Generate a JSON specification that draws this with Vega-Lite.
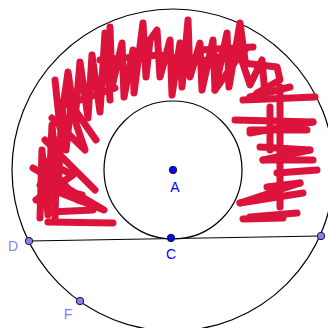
{
  "$schema": "https://vega.github.io/schema/vega-lite/v6.json",
  "width": 328,
  "height": 328,
  "autosize": {"type": "fit", "contains": "padding"},
  "padding": 0,
  "background": "white",
  "config": {"view": {"stroke": null}},
  "datasets": {
    "circles": [
      {"name": "outer", "cx": 0, "cy": 0, "r": 161},
      {"name": "inner", "cx": 0, "cy": 0, "r": 69}
    ],
    "chord": [
      {"from": "D", "to": "E", "x": -144, "y": -71, "x2": 148, "y2": -66}
    ],
    "scribble": [
      {"s": 1, "o": 1, "x": -133, "y": -48}, {"s": 1, "o": 2, "x": -131, "y": 20}, {"s": 1, "o": 3, "x": -125, "y": -45}, {"s": 1, "o": 4, "x": -121, "y": 45}, {"s": 1, "o": 5, "x": -115, "y": -20}, {"s": 1, "o": 6, "x": -111, "y": 62}, {"s": 1, "o": 7, "x": -107, "y": 20}, {"s": 1, "o": 8, "x": -101, "y": 75},
      {"s": 2, "o": 1, "x": -140, "y": 2}, {"s": 2, "o": 2, "x": -69, "y": -40}, {"s": 2, "o": 3, "x": -133, "y": -15}, {"s": 2, "o": 4, "x": -91, "y": -25},
      {"s": 3, "o": 1, "x": -128, "y": 30}, {"s": 3, "o": 2, "x": -78, "y": -20},
      {"s": 4, "o": 1, "x": -121, "y": 52}, {"s": 4, "o": 2, "x": -88, "y": 20}, {"s": 4, "o": 3, "x": -105, "y": 70}, {"s": 4, "o": 4, "x": -77, "y": 30},
      {"s": 5, "o": 1, "x": -125, "y": -52}, {"s": 5, "o": 2, "x": -60, "y": -53},
      {"s": 6, "o": 1, "x": -123, "y": -42}, {"s": 6, "o": 2, "x": -80, "y": -40},
      {"s": 7, "o": 1, "x": -118, "y": 90}, {"s": 7, "o": 2, "x": -113, "y": 42}, {"s": 7, "o": 3, "x": -105, "y": 98}, {"s": 7, "o": 4, "x": -98, "y": 50}, {"s": 7, "o": 5, "x": -93, "y": 108}, {"s": 7, "o": 6, "x": -85, "y": 52}, {"s": 7, "o": 7, "x": -81, "y": 115}, {"s": 7, "o": 8, "x": -73, "y": 58}, {"s": 7, "o": 9, "x": -68, "y": 137}, {"s": 7, "o": 10, "x": -63, "y": 70},
      {"s": 8, "o": 1, "x": -113, "y": 63}, {"s": 8, "o": 2, "x": -58, "y": 82},
      {"s": 9, "o": 1, "x": -63, "y": 143}, {"s": 9, "o": 2, "x": -61, "y": 83}, {"s": 9, "o": 3, "x": -51, "y": 127}, {"s": 9, "o": 4, "x": -49, "y": 73}, {"s": 9, "o": 5, "x": -40, "y": 120}, {"s": 9, "o": 6, "x": -39, "y": 77}, {"s": 9, "o": 7, "x": -30, "y": 147}, {"s": 9, "o": 8, "x": -27, "y": 93}, {"s": 9, "o": 9, "x": -23, "y": 130}, {"s": 9, "o": 10, "x": -16, "y": 140}, {"s": 9, "o": 11, "x": -13, "y": 93}, {"s": 9, "o": 12, "x": -3, "y": 130}, {"s": 9, "o": 13, "x": -1, "y": 75}, {"s": 9, "o": 14, "x": 7, "y": 127}, {"s": 9, "o": 15, "x": 9, "y": 83}, {"s": 9, "o": 16, "x": 15, "y": 150}, {"s": 9, "o": 17, "x": 17, "y": 93}, {"s": 9, "o": 18, "x": 27, "y": 127}, {"s": 9, "o": 19, "x": 29, "y": 80}, {"s": 9, "o": 20, "x": 40, "y": 130}, {"s": 9, "o": 21, "x": 42, "y": 80}, {"s": 9, "o": 22, "x": 54, "y": 137}, {"s": 9, "o": 23, "x": 56, "y": 83}, {"s": 9, "o": 24, "x": 67, "y": 147}, {"s": 9, "o": 25, "x": 72, "y": 110},
      {"s": 10, "o": 1, "x": -73, "y": 110}, {"s": 10, "o": 2, "x": -13, "y": 115}, {"s": 10, "o": 3, "x": 27, "y": 108}, {"s": 10, "o": 4, "x": 72, "y": 120},
      {"s": 11, "o": 1, "x": 27, "y": 120}, {"s": 11, "o": 2, "x": 80, "y": 123},
      {"s": 12, "o": 1, "x": 70, "y": 107}, {"s": 12, "o": 2, "x": 104, "y": 103}, {"s": 12, "o": 3, "x": 107, "y": 90}, {"s": 12, "o": 4, "x": 84, "y": 77},
      {"s": 13, "o": 1, "x": 70, "y": 70}, {"s": 13, "o": 2, "x": 142, "y": 73},
      {"s": 14, "o": 1, "x": 62, "y": 50}, {"s": 14, "o": 2, "x": 140, "y": 48},
      {"s": 15, "o": 1, "x": 77, "y": 40}, {"s": 15, "o": 2, "x": 134, "y": 40},
      {"s": 16, "o": 1, "x": 87, "y": 23}, {"s": 16, "o": 2, "x": 137, "y": 20},
      {"s": 17, "o": 1, "x": 90, "y": 10}, {"s": 17, "o": 2, "x": 140, "y": 10},
      {"s": 18, "o": 1, "x": 104, "y": -3}, {"s": 18, "o": 2, "x": 144, "y": 0},
      {"s": 19, "o": 1, "x": 94, "y": -17}, {"s": 19, "o": 2, "x": 127, "y": -13},
      {"s": 20, "o": 1, "x": 67, "y": -33}, {"s": 20, "o": 2, "x": 130, "y": -23},
      {"s": 21, "o": 1, "x": 77, "y": -47}, {"s": 21, "o": 2, "x": 124, "y": -43},
      {"s": 22, "o": 1, "x": 107, "y": 83}, {"s": 22, "o": 2, "x": 107, "y": -37},
      {"s": 23, "o": 1, "x": 97, "y": 63}, {"s": 23, "o": 2, "x": 97, "y": 20},
      {"s": 24, "o": 1, "x": 77, "y": 73}, {"s": 24, "o": 2, "x": 117, "y": 83},
      {"s": 25, "o": 1, "x": 42, "y": 80}, {"s": 25, "o": 2, "x": 67, "y": 115}, {"s": 25, "o": 3, "x": 77, "y": 85}, {"s": 25, "o": 4, "x": 89, "y": 110}, {"s": 25, "o": 5, "x": 92, "y": 75},
      {"s": 26, "o": 1, "x": 70, "y": -49}, {"s": 26, "o": 2, "x": 110, "y": -48},
      {"s": 27, "o": 1, "x": -137, "y": -30}, {"s": 27, "o": 2, "x": -100, "y": -5}, {"s": 27, "o": 3, "x": -130, "y": 10}, {"s": 27, "o": 4, "x": -95, "y": -30},
      {"s": 28, "o": 1, "x": -118, "y": -50}, {"s": 28, "o": 2, "x": -116, "y": 30},
      {"s": 29, "o": 1, "x": 140, "y": 48}, {"s": 29, "o": 2, "x": 77, "y": 37},
      {"s": 30, "o": 1, "x": 137, "y": 20}, {"s": 30, "o": 2, "x": 90, "y": 10},
      {"s": 31, "o": 1, "x": 127, "y": -13}, {"s": 31, "o": 2, "x": 67, "y": -33}
    ],
    "points": [
      {"label": "A", "kind": "dependent", "x": 0, "y": 0},
      {"label": "C", "kind": "dependent", "x": -2, "y": -68},
      {"label": "D", "kind": "free", "x": -144, "y": -71},
      {"label": "E", "kind": "free", "x": 148, "y": -66},
      {"label": "F", "kind": "free", "x": -93, "y": -131}
    ],
    "labels": [
      {"label": "A", "kind": "dependent", "x": 2, "y": -18},
      {"label": "C", "kind": "dependent", "x": -2, "y": -85},
      {"label": "D", "kind": "free", "x": -160, "y": -77},
      {"label": "F", "kind": "free", "x": -105, "y": -145}
    ]
  },
  "layer": [
    {
      "data": {"name": "circles"},
      "mark": {"type": "point", "shape": "circle", "filled": false, "stroke": "black", "strokeWidth": 1.2, "opacity": 1, "clip": true},
      "encoding": {
        "x": {"field": "cx", "type": "quantitative", "scale": {"domain": [-173, 155], "nice": false, "zero": false}, "axis": null},
        "y": {"field": "cy", "type": "quantitative", "scale": {"domain": [-158, 170], "nice": false, "zero": false}, "axis": null},
        "size": {"field": "r", "type": "quantitative", "scale": {"type": "pow", "exponent": 2, "domain": [0, 161], "range": [0, 103684]}, "legend": null}
      }
    },
    {
      "data": {"name": "chord"},
      "mark": {"type": "rule", "color": "black", "strokeWidth": 1.2},
      "encoding": {
        "x": {"field": "x", "type": "quantitative"},
        "y": {"field": "y", "type": "quantitative"},
        "x2": {"field": "x2"},
        "y2": {"field": "y2"}
      }
    },
    {
      "data": {"name": "scribble"},
      "mark": {"type": "line", "color": "#dc143c", "strokeWidth": 7, "strokeCap": "round", "strokeJoin": "round", "clip": true},
      "encoding": {
        "x": {"field": "x", "type": "quantitative"},
        "y": {"field": "y", "type": "quantitative"},
        "detail": {"field": "s", "type": "nominal"},
        "order": {"field": "o", "type": "quantitative"}
      }
    },
    {
      "data": {"name": "points"},
      "mark": {"type": "point", "shape": "circle", "filled": true, "size": 55, "stroke": "#1a1a1a", "strokeWidth": 1, "opacity": 1, "clip": true},
      "encoding": {
        "x": {"field": "x", "type": "quantitative"},
        "y": {"field": "y", "type": "quantitative"},
        "fill": {"field": "kind", "type": "nominal", "scale": {"domain": ["dependent", "free"], "range": ["#0000ff", "#7f7fff"]}, "legend": null}
      }
    },
    {
      "data": {"name": "labels"},
      "mark": {"type": "text", "font": "Liberation Sans", "fontSize": 14, "align": "center", "baseline": "middle"},
      "encoding": {
        "x": {"field": "x", "type": "quantitative"},
        "y": {"field": "y", "type": "quantitative"},
        "text": {"field": "label", "type": "nominal"},
        "color": {"field": "kind", "type": "nominal", "scale": {"domain": ["dependent", "free"], "range": ["#0000ff", "#7f7fff"]}, "legend": null}
      }
    }
  ]
}
